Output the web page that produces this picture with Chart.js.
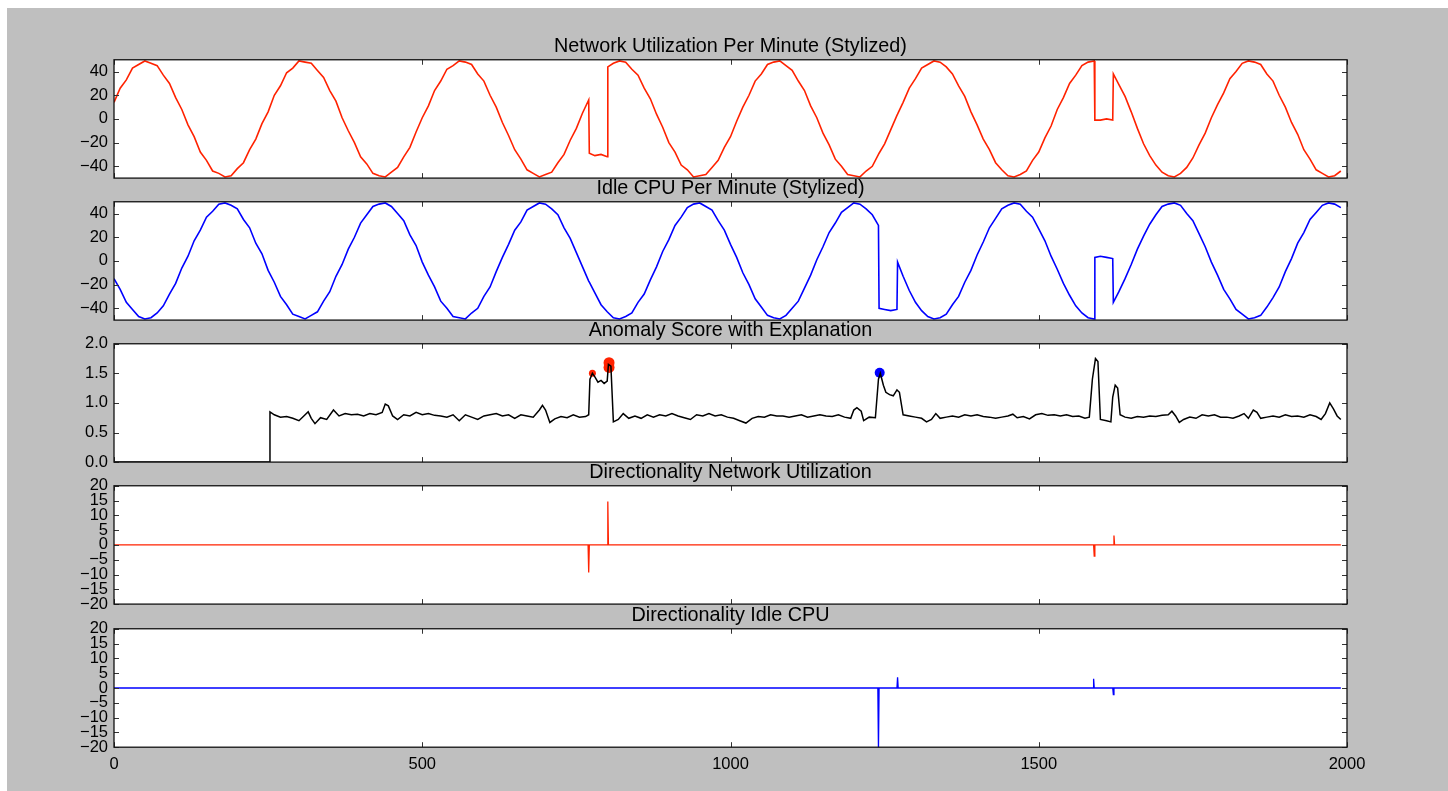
<!DOCTYPE html>
<html>
<head>
<meta charset="utf-8">
<title>Anomaly score with explanation</title>
<script src="https://cdn.jsdelivr.net/npm/chart.js@4.4.1/dist/chart.umd.min.js"></script>
<style>
  html, body { margin: 0; padding: 0; background: #fff; overflow: hidden; }
  #bg { position: absolute; left: 7px; top: 8px; width: 1441px; height: 783px; background: #bfbfbf; }
  canvas { position: absolute; left: 0; }
</style>
</head>
<body>
<div id="bg"></div>
<canvas id="netChart" width="1448" height="159" style="top:35px"></canvas>
<canvas id="cpuChart" width="1448" height="159" style="top:177px"></canvas>
<canvas id="scoreChart" width="1448" height="159" style="top:319px"></canvas>
<canvas id="netDirChart" width="1448" height="159" style="top:461px"></canvas>
<canvas id="cpuDirChart" width="1448" height="181" style="top:604px"></canvas>
<script>
// minute index shared by the two stylized signals
const minutes = [
  0, 10, 20, 30, 40, 50, 60, 70, 80, 90,
  100, 110, 120, 130, 140, 150, 160, 170, 180, 190,
  200, 210, 220, 230, 240, 250, 260, 270, 280, 290,
  300, 310, 320, 330, 340, 350, 360, 370, 380, 390,
  400, 410, 420, 430, 440, 450, 460, 470, 480, 490,
  500, 510, 520, 530, 540, 550, 560, 570, 580, 590,
  600, 610, 620, 630, 640, 650, 660, 670, 680, 690,
  700, 710, 720, 730, 740, 750, 760, 770, 771, 780, 790,
  800, 801, 810, 820, 830, 840, 850, 860, 870, 880, 890,
  900, 910, 920, 930, 940, 950, 960, 970, 980, 990,
  1000, 1010, 1020, 1030, 1040, 1050, 1060, 1070, 1080, 1090,
  1100, 1110, 1120, 1130, 1140, 1150, 1160, 1170, 1180, 1190,
  1200, 1210, 1220, 1230, 1240, 1241, 1250, 1260, 1270, 1271, 1280, 1290,
  1300, 1310, 1320, 1330, 1340, 1350, 1360, 1370, 1380, 1390,
  1400, 1410, 1420, 1430, 1440, 1450, 1460, 1470, 1480, 1490,
  1500, 1510, 1520, 1530, 1540, 1550, 1560, 1570, 1580, 1590, 1591,
  1600, 1610, 1620, 1621, 1630, 1640, 1650, 1660, 1670, 1680, 1690,
  1700, 1710, 1720, 1730, 1740, 1750, 1760, 1770, 1780, 1790,
  1800, 1810, 1820, 1830, 1840, 1850, 1860, 1870, 1880, 1890,
  1900, 1910, 1920, 1930, 1940, 1950, 1960, 1970, 1980, 1990
];

const networkUtil = [
  14, 26, 33, 43, 46, 49, 47, 45, 37, 30,
  18, 8, -5, -15, -28, -35, -44, -46, -49, -48,
  -42, -37, -26, -17, -4, 6, 20, 28, 39, 43,
  49, 48, 47, 41, 35, 24, 15, 1, -10, -20,
  -32, -38, -46, -48, -49, -45, -41, -32, -24, -11,
  1, 11, 24, 32, 42, 45, 49, 48, 46, 38,
  32, 20, 10, -3, -14, -26, -34, -43, -46, -49,
  -47, -45, -37, -30, -18, -8, 5, 16, -29, -31, -30,
  -32, 44, 47, 49, 48, 42, 37, 26, 17, 4, -7,
  -20, -28, -39, -43, -49, -48, -47, -41, -35, -24,
  -15, -2, 10, 20, 32, 38, 46, 48, 49, 45,
  41, 32, 24, 11, 1, -12, -22, -34, -40, -47,
  -48, -49, -44, -40, -30, -29, -21, -9, 3, 4, 14, 26,
  34, 43, 46, 49, 48, 44, 38, 28, 19, 6,
  -5, -17, -26, -37, -43, -48, -49, -47, -44, -35,
  -28, -16, -6, 8, 18, 30, 37, 45, 48, 49, -1,
  -1, 0, -1, 38, 29, 19, 6, -8, -21, -31, -39,
  -45, -48, -49, -46, -41, -33, -22, -12, 1, 12,
  22, 34, 40, 47, 49, 48, 46, 38, 32, 20,
  10, -3, -13, -26, -34, -43, -46, -49, -48, -44
];

const idleCpu = [
  -15, -24, -35, -41, -47, -49, -48, -44, -38, -28,
  -19, -6, 4, 17, 26, 37, 42, 48, 49, 47,
  44, 35, 28, 15, 6, -8, -18, -30, -37, -45,
  -47, -49, -46, -43, -34, -26, -13, -3, 10, 20,
  32, 39, 46, 48, 49, 46, 40, 34, 22, 13,
  -1, -12, -22, -34, -40, -47, -48, -49, -44, -40,
  -30, -22, -9, 3, 14, 26, 33, 43, 46, 49,
  48, 44, 39, 28, 19, 7, -5, -17, -18, -27, -37,
  -43, -43, -48, -49, -47, -44, -35, -28, -16, -5, 8,
  18, 30, 37, 45, 48, 49, 46, 43, 34, 26,
  14, 3, -10, -20, -32, -39, -46, -48, -49, -46,
  -40, -34, -23, -12, 1, 12, 24, 32, 41, 45,
  49, 48, 44, 39, 30, -40, -41, -42, -41, -1, -13, -25,
  -35, -42, -47, -49, -48, -45, -37, -30, -18, -8,
  5, 16, 28, 36, 44, 47, 49, 48, 42, 37,
  27, 17, 4, -7, -19, -29, -38, -44, -48, -49, 3,
  4, 3, 2, -35, -26, -15, -3, 10, 21, 31, 39,
  46, 48, 49, 47, 40, 34, 23, 12, -1, -12,
  -24, -32, -41, -45, -49, -48, -46, -39, -31, -22,
  -9, 2, 15, 24, 35, 41, 47, 49, 48, 45
];

const scoreMinutes = [
  0, 252, 253, 260, 270, 280, 290, 300, 310, 315,
  320, 326, 335, 345, 356, 365, 375, 385, 395, 405,
  415, 425, 435, 440, 445, 452, 460, 470, 480, 490,
  500, 510, 520, 530, 540, 550, 560, 570, 580, 590,
  600, 610, 620, 630, 640, 650, 660, 670, 680, 690,
  695, 700, 707, 715, 725, 735, 745, 755, 765, 770,
  772, 776, 780, 785, 790, 795, 800, 802, 806, 810,
  818, 826, 835, 845, 855, 865, 875, 885, 895, 905,
  915, 925, 935, 945, 955, 965, 975, 985, 995, 1005,
  1015, 1025, 1035, 1045, 1055, 1065, 1075, 1085, 1095, 1105,
  1115, 1125, 1135, 1145, 1155, 1165, 1175, 1185, 1195, 1200,
  1205, 1212, 1216, 1225, 1235, 1240, 1243, 1248, 1252, 1258,
  1264, 1270, 1274, 1280, 1290, 1300, 1310, 1318, 1326, 1333,
  1340, 1350, 1360, 1370, 1380, 1390, 1400, 1410, 1420, 1430,
  1440, 1450, 1458, 1465, 1475, 1485, 1495, 1505, 1515, 1525,
  1535, 1545, 1555, 1565, 1575, 1582, 1587, 1592, 1596, 1600,
  1610, 1617, 1620, 1624, 1628, 1632, 1640, 1650, 1660, 1670,
  1680, 1690, 1700, 1710, 1716, 1722, 1728, 1735, 1745, 1755,
  1765, 1775, 1785, 1795, 1805, 1815, 1825, 1833, 1840, 1848,
  1854, 1860, 1870, 1880, 1890, 1900, 1910, 1920, 1930, 1940,
  1950, 1958, 1965, 1972, 1978, 1984, 1990
];

const anomalyScore = [
  0, 0, 0.85, 0.80, 0.76, 0.77, 0.74, 0.70, 0.80, 0.85,
  0.74, 0.65, 0.75, 0.72, 0.88, 0.78, 0.82, 0.80, 0.81, 0.78,
  0.82, 0.80, 0.84, 0.98, 0.95, 0.78, 0.72, 0.80, 0.78, 0.84,
  0.80, 0.82, 0.79, 0.78, 0.76, 0.80, 0.70, 0.80, 0.76, 0.72,
  0.78, 0.80, 0.82, 0.78, 0.80, 0.74, 0.80, 0.78, 0.76, 0.88,
  0.96, 0.88, 0.67, 0.73, 0.77, 0.75, 0.80, 0.76, 0.77, 0.80,
  1.40, 1.50, 1.44, 1.35, 1.38, 1.33, 1.37, 1.65, 1.62, 0.68,
  0.72, 0.82, 0.74, 0.78, 0.74, 0.80, 0.76, 0.80, 0.78, 0.82,
  0.78, 0.75, 0.72, 0.80, 0.78, 0.82, 0.78, 0.80, 0.76, 0.74,
  0.70, 0.66, 0.74, 0.77, 0.76, 0.80, 0.78, 0.78, 0.76, 0.78,
  0.80, 0.76, 0.78, 0.80, 0.78, 0.77, 0.80, 0.76, 0.74, 0.88,
  0.92, 0.86, 0.70, 0.76, 0.75, 1.40, 1.50, 1.30, 1.18, 1.14,
  1.12, 1.22, 1.18, 0.80, 0.78, 0.76, 0.74, 0.68, 0.72, 0.82,
  0.74, 0.76, 0.78, 0.76, 0.80, 0.78, 0.80, 0.77, 0.76, 0.74,
  0.76, 0.78, 0.81, 0.75, 0.77, 0.73, 0.80, 0.82, 0.79, 0.80,
  0.78, 0.80, 0.77, 0.78, 0.74, 0.76, 1.40, 1.75, 1.70, 0.72,
  0.70, 0.68, 1.10, 1.30, 1.25, 0.80, 0.76, 0.74, 0.77, 0.76,
  0.78, 0.77, 0.79, 0.80, 0.86, 0.78, 0.67, 0.72, 0.76, 0.74,
  0.80, 0.78, 0.80, 0.76, 0.76, 0.74, 0.78, 0.82, 0.74, 0.88,
  0.84, 0.74, 0.76, 0.78, 0.76, 0.80, 0.77, 0.78, 0.76, 0.80,
  0.77, 0.72, 0.82, 1.00, 0.90, 0.78, 0.72
];

// explanation markers on the score
const netMarkMinutes = [776, 803, 803];
const netMarkScores = [1.50, 1.60, 1.68];
const cpuMarkMinutes = [1242];
const cpuMarkScores = [1.51];

const netDirMinutes = [0, 769, 770, 771, 800, 801, 802, 1589, 1590, 1591, 1621, 1622, 1623, 1990];
const netDirValues = [0, 0, -9.3, 0, 0, 14.7, 0, 0, -3.8, 0, 0, 3.2, 0, 0];
const cpuDirMinutes = [0, 1239, 1240, 1241, 1270, 1271, 1272, 1588, 1589, 1590, 1620, 1621, 1622, 1990];
const cpuDirValues = [0, 0, -21, 0, 0, 3.6, 0, 0, 3.1, 0, 0, -2.2, 0, 0];

const xTicks = [0, 500, 1000, 1500, 2000];
const signalTicks = [-40, -20, 0, 20, 40];
const scoreTicks = [0, 0.5, 1, 1.5, 2];
const dirTicks = [-20, -15, -10, -5, 0, 5, 10, 15, 20];

const RED = '#ff2200';
const BLUE = '#0000ff';

Chart.defaults.font.family = "'Liberation Sans', Arial, sans-serif";
Chart.defaults.color = '#000';

function points(xs, ys) {
  return xs.map((x, i) => ({ x: x, y: ys[i] }));
}

// white axes background, full frame and inward ticks like the old matplotlib look
const framePlugin = {
  id: 'frame',
  beforeDraw(chart) {
    const { ctx, chartArea: a } = chart;
    ctx.save();
    ctx.fillStyle = '#fff';
    ctx.fillRect(a.left, a.top, a.width, a.height);
    ctx.restore();
  },
  afterDraw(chart) {
    const { ctx, chartArea: a, scales } = chart;
    ctx.save();
    ctx.strokeStyle = '#333';
    ctx.lineWidth = 1;
    ctx.beginPath();
    xTicks.forEach(v => {
      const px = Math.round(scales.x.getPixelForValue(v)) + 0.5;
      ctx.moveTo(px, a.bottom); ctx.lineTo(px, a.bottom - 5);
      ctx.moveTo(px, a.top); ctx.lineTo(px, a.top + 5);
    });
    scales.y.ticks.forEach(t => {
      const py = Math.round(scales.y.getPixelForValue(t.value)) + 0.5;
      ctx.moveTo(a.left, py); ctx.lineTo(a.left + 5, py);
      ctx.moveTo(a.right, py); ctx.lineTo(a.right - 5, py);
    });
    ctx.stroke();
    ctx.strokeStyle = '#111';
    ctx.lineWidth = 1.3;
    ctx.strokeRect(a.left, a.top, a.width, a.height);
    ctx.restore();
  }
};

function makePanel(id, title, datasets, yMin, yMax, yTicks, fmt, showX, bottomPad) {
  return new Chart(document.getElementById(id), {
    type: 'line',
    data: { datasets: datasets },
    options: {
      responsive: false,
      animation: false,
      events: [],
      layout: { padding: { left: 0, right: 101, top: 0, bottom: bottomPad } },
      elements: { point: { radius: 0 }, line: { tension: 0 } },
      plugins: {
        legend: { display: false },
        tooltip: { enabled: false },
        title: {
          display: true,
          text: title,
          fullSize: false,
          color: '#000',
          font: { size: 19.8, weight: 'normal' },
          padding: { top: 0, bottom: 1 }
        }
      },
      scales: {
        x: {
          type: 'linear',
          min: 0,
          max: 2000,
          display: showX,
          afterBuildTicks: s => { s.ticks = xTicks.map(v => ({ value: v })); },
          grid: { display: false, drawTicks: false },
          border: { display: false },
          ticks: {
            padding: 7,
            maxRotation: 0,
            autoSkip: false,
            font: { size: 16.5 },
            callback: v => String(v)
          }
        },
        y: {
          type: 'linear',
          min: yMin,
          max: yMax,
          afterBuildTicks: s => { s.ticks = yTicks.map(v => ({ value: v })); },
          afterFit: s => { s.width = 114; },
          grid: { display: false, drawTicks: false },
          border: { display: false },
          ticks: {
            padding: 6,
            autoSkip: false,
            font: { size: 16.5 },
            callback: v => fmt(v).replace('-', '\u2212')
          }
        }
      }
    },
    plugins: [framePlugin]
  });
}

const asInt = v => String(v);
const oneDec = v => v.toFixed(1);

makePanel('netChart', 'Network Utilization Per Minute (Stylized)', [
  { data: points(minutes, networkUtil), borderColor: RED, borderWidth: 1.6 }
], -50, 50, signalTicks, asInt, false, 0);

makePanel('cpuChart', 'Idle CPU Per Minute (Stylized)', [
  { data: points(minutes, idleCpu), borderColor: BLUE, borderWidth: 1.6 }
], -50, 50, signalTicks, asInt, false, 0);

makePanel('scoreChart', 'Anomaly Score with Explanation', [
  { data: points(scoreMinutes, anomalyScore), borderColor: '#000', borderWidth: 1.5, order: 1 },
  { data: points(netMarkMinutes, netMarkScores), showLine: false, pointRadius: [3.5, 5.5, 5.5],
    pointBackgroundColor: RED, pointBorderWidth: 0, order: 2 },
  { data: points(cpuMarkMinutes, cpuMarkScores), showLine: false, pointRadius: 5,
    pointBackgroundColor: BLUE, pointBorderWidth: 0, order: 2 }
], 0, 2, scoreTicks, oneDec, false, 0);

makePanel('netDirChart', 'Directionality Network Utilization', [
  { data: points(netDirMinutes, netDirValues), borderColor: RED, borderWidth: 1.3 }
], -20, 20, dirTicks, asInt, false, 0);

makePanel('cpuDirChart', 'Directionality Idle CPU', [
  { data: points(cpuDirMinutes, cpuDirValues), borderColor: BLUE, borderWidth: 1.3 }
], -20, 20, dirTicks, asInt, true, 4);
</script>
</body>
</html>
